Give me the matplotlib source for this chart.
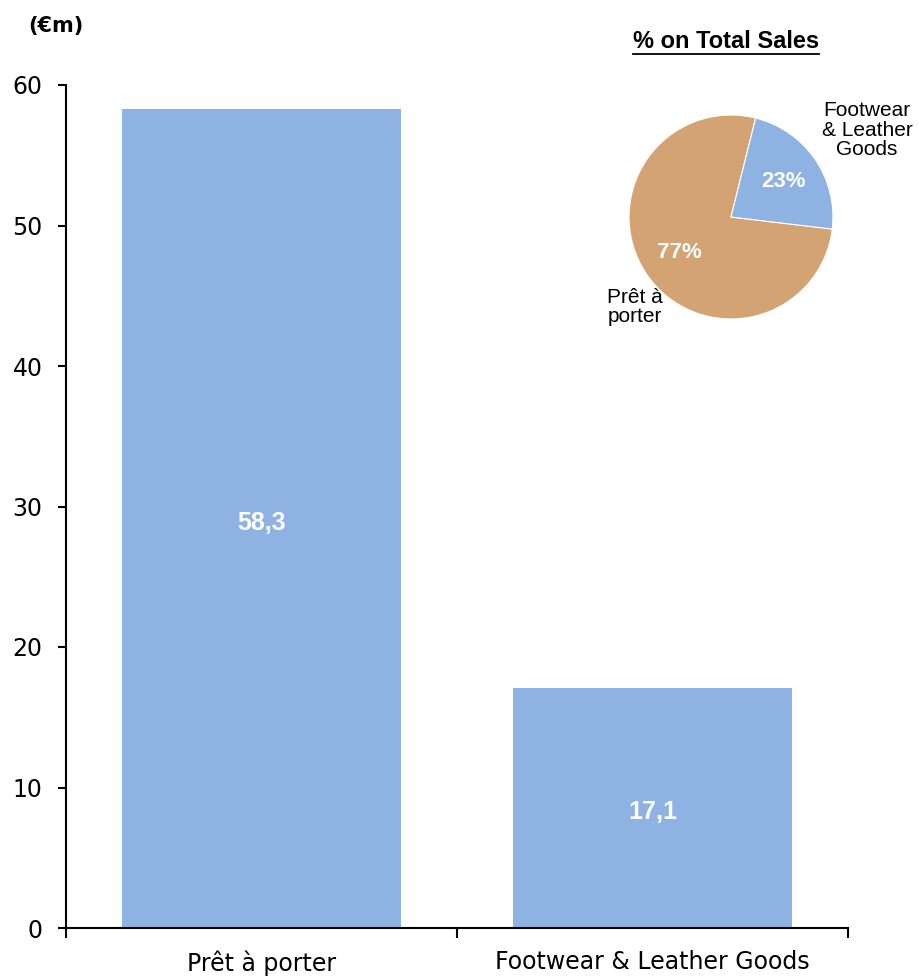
import matplotlib.pyplot as plt
from matplotlib.lines import Line2D

categories = ["Prêt à porter", "Footwear & Leather Goods"]
sales = [58.3, 17.1]
sales_labels = ["58,3", "17,1"]
pie_labels = ["Prêt à\nporter", "Footwear\n& Leather\nGoods"]
pie_share = [77, 23]
y_ticks = [0, 10, 20, 30, 40, 50, 60]

blue = "#8eb3e3"
tan = "#d3a374"

fig = plt.figure(figsize=(9.19, 9.76), dpi=100)
ax = fig.add_axes([66 / 919, 1 - 928 / 976, (848 - 66) / 919, (928 - 85) / 976])

x = list(range(len(categories)))
bars = ax.bar(x, sales, width=0.715, color=blue)
for b, lab in zip(bars, sales_labels):
    ax.text(b.get_x() + b.get_width() / 2, b.get_height() / 2 - 0.3, lab,
            ha="center", va="center", color="white", fontsize=18,
            fontweight="bold", family="Liberation Sans")

ax.set_xlim(-0.5, 1.5)
ax.set_ylim(0, 60)
ax.set_yticks(y_ticks)
ax.set_xticks([-0.5, 0.5, 1.5])
ax.set_xticklabels([])
ax.set_xticks(x, minor=True)
ax.set_xticklabels(categories, minor=True, fontsize=17)
ax.tick_params(axis="x", which="major", length=7, width=1.5, direction="out")
ax.tick_params(axis="x", which="minor", length=0, pad=16)
ax.tick_params(axis="y", length=6, width=1.5, direction="out", pad=11, labelsize=17)
for s in ["top", "right"]:
    ax.spines[s].set_visible(False)
for s in ["left", "bottom"]:
    ax.spines[s].set_linewidth(1.5)

fig.text(56 / 919, 1 - 26 / 976, "(€m)", ha="center", va="center",
         fontsize=15, fontweight="bold")

# pie inset
pax = fig.add_axes([628 / 919, 1 - 320 / 976, 206 / 919, 206 / 976])
wedges, texts, autotexts = pax.pie(
    pie_share, colors=[tan, blue], startangle=76, counterclock=True,
    autopct="%d%%", pctdistance=0.62,
    wedgeprops=dict(edgecolor="white", linewidth=0.8),
    textprops=dict(family="Liberation Sans"))
for t in autotexts:
    t.set_color("white")
    t.set_fontweight("bold")
    t.set_fontsize(16)
for t in texts:
    t.set_visible(False)
pax.set_xlim(-1.01, 1.01)
pax.set_ylim(-1.01, 1.01)
pax.set_aspect("equal")

fig.text(635 / 919, 1 - 307 / 976, pie_labels[0], ha="center", va="center",
         fontsize=15, family="Liberation Sans", linespacing=1.05)
fig.text(867 / 919, 1 - 130 / 976, pie_labels[1], ha="center", va="center",
         fontsize=15, family="Liberation Sans", linespacing=1.05)

fig.text(726 / 919, 1 - 42 / 976, "% on Total Sales", ha="center", va="center",
         fontsize=17, fontweight="bold", family="Liberation Sans")
fig.add_artist(Line2D([633 / 919, 819 / 919], [1 - 54 / 976, 1 - 54 / 976],
                      color="black", linewidth=1.3))

fig.savefig("out.png", dpi=100)
